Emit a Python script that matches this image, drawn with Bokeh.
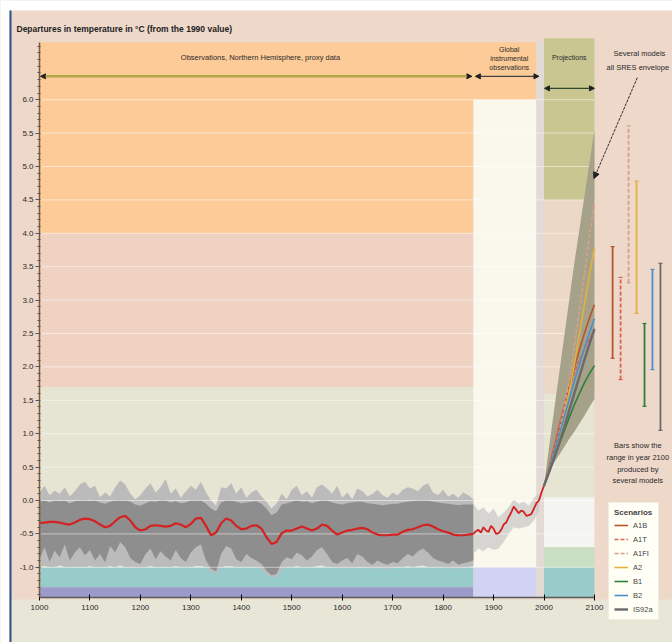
import numpy as np
from bokeh.plotting import figure
from bokeh.models import (Range1d, FixedTicker, NumeralTickFormatter, Legend, LegendItem,
                          Label, Arrow, NormalHead)
from bokeh.core.properties import value
from bokeh.embed import file_html
from bokeh.resources import INLINE

# ---------------- data ----------------
proxy_years = list(range(1000, 1861, 10))
proxy_band_top = [0.12, 0.22, 0.08, 0.15, 0.10, 0.20, 0.06, 0.14, 0.24, 0.28,
                  0.18, 0.22, 0.05, 0.12, 0.06, 0.20, 0.30, 0.24, 0.10, 0.02,
                  0.08, 0.18, 0.26, 0.12, 0.20, 0.32, 0.10, 0.18, 0.04, 0.14,
                  0.22, 0.16, 0.28, 0.12, 0.00, -0.08, 0.20, 0.18, 0.26, 0.10,
                  0.20, 0.04, 0.12, 0.16, 0.06, -0.02, -0.12, -0.04, 0.10, 0.02,
                  0.16, 0.22, 0.08, 0.14, 0.04, 0.20, 0.24, 0.18, 0.10, 0.22,
                  0.04, 0.12, 0.02, 0.18, 0.14, 0.06, 0.10, 0.16, 0.08, 0.04,
                  0.12, 0.08, 0.16, 0.20, 0.18, 0.14, 0.22, 0.26, 0.12, 0.08,
                  0.16, 0.06, 0.10, 0.04, 0.12, 0.08, 0.02]
proxy_core_top = [-0.02, 0.00, -0.03, 0.00, -0.01, 0.00, -0.04, -0.01, 0.00, 0.00,
                  -0.01, 0.00, -0.03, -0.05, -0.02, 0.00, 0.00, 0.00, -0.02, -0.06,
                  -0.08, -0.04, -0.01, -0.02, 0.00, 0.00, -0.03, -0.01, -0.04, -0.03,
                  0.00, 0.00, 0.00, -0.05, -0.12, -0.16, -0.03, 0.00, 0.00, -0.02,
                  -0.04, -0.03, -0.02, -0.01, -0.05, -0.12, -0.22, -0.18, -0.06, -0.04,
                  -0.02, 0.00, -0.02, -0.01, -0.04, -0.02, 0.00, 0.00, -0.03, -0.05,
                  -0.06, -0.04, -0.03, -0.02, -0.02, -0.04, -0.05, -0.06, -0.07, -0.06,
                  -0.05, -0.05, -0.03, -0.02, -0.01, 0.00, 0.00, 0.00, -0.02, -0.03,
                  -0.04, -0.05, -0.06, -0.07, -0.06, -0.06, -0.06]
proxy_core_bottom = [-0.88, -0.70, -0.92, -0.75, -0.85, -0.66, -0.90, -0.78, -0.70, -0.82,
                     -0.74, -0.90, -0.80, -0.93, -0.68, -0.78, -0.62, -0.70, -0.86, -0.92,
                     -0.95, -0.80, -0.72, -0.88, -0.76, -0.84, -0.90, -0.74, -0.86, -0.92,
                     -0.78, -0.70, -0.66, -0.90, -1.02, -1.06, -0.80, -0.68, -0.72, -0.88,
                     -0.92, -0.80, -0.86, -0.90, -0.95, -1.05, -1.12, -1.10, -0.92, -0.85,
                     -0.88, -0.78, -0.82, -0.90, -0.84, -0.74, -0.70, -0.80, -0.92, -0.95,
                     -0.90, -0.86, -0.94, -0.80, -0.84, -0.92, -0.96, -0.90, -0.94, -0.96,
                     -0.92, -0.94, -0.86, -0.80, -0.84, -0.76, -0.72, -0.78, -0.86, -0.90,
                     -0.92, -0.95, -0.90, -0.96, -0.94, -0.92, -0.90]
proxy_band_bottom = [-1.00, -0.98, -1.00, -1.00, -0.97, -1.00, -1.00, -0.99, -1.00, -1.00,
                     -0.98, -1.00, -1.00, -1.00, -0.98, -1.00, -0.97, -1.00, -1.00, -1.00,
                     -1.02, -1.00, -0.98, -1.00, -1.00, -0.99, -1.00, -0.98, -1.00, -1.00,
                     -1.00, -0.98, -0.98, -1.00, -1.06, -1.10, -1.00, -0.98, -0.98, -1.00,
                     -1.00, -1.00, -1.00, -1.00, -1.02, -1.10, -1.15, -1.14, -1.04, -1.00,
                     -1.00, -0.98, -1.00, -1.00, -1.00, -0.98, -0.97, -1.00, -1.00, -1.02,
                     -1.00, -1.00, -1.02, -1.00, -1.00, -1.00, -1.02, -1.00, -1.02, -1.02,
                     -1.00, -1.00, -1.00, -0.98, -1.00, -0.98, -0.97, -1.00, -1.00, -1.00,
                     -1.00, -1.02, -1.00, -1.02, -1.00, -1.00, -0.98]
proxy_smooth = [-0.34, -0.33, -0.32, -0.32, -0.33, -0.35, -0.36, -0.33, -0.29, -0.27,
                -0.28, -0.31, -0.36, -0.40, -0.38, -0.31, -0.25, -0.23, -0.30, -0.40,
                -0.45, -0.43, -0.38, -0.37, -0.38, -0.39, -0.38, -0.34, -0.36, -0.40,
                -0.35, -0.27, -0.26, -0.38, -0.52, -0.48, -0.34, -0.27, -0.30, -0.38,
                -0.43, -0.42, -0.38, -0.37, -0.42, -0.55, -0.65, -0.62, -0.49, -0.45,
                -0.45, -0.42, -0.39, -0.42, -0.45, -0.42, -0.36, -0.38, -0.45, -0.51,
                -0.48, -0.45, -0.44, -0.42, -0.41, -0.43, -0.48, -0.51, -0.52, -0.52,
                -0.51, -0.51, -0.47, -0.44, -0.43, -0.40, -0.37, -0.36, -0.39, -0.43,
                -0.46, -0.48, -0.51, -0.52, -0.52, -0.51, -0.50]

instr_years = [1860, 1865, 1870, 1875, 1880, 1885, 1890, 1895, 1900, 1905, 1910, 1915,
               1920, 1925, 1930, 1935, 1940, 1945, 1950, 1955, 1960, 1965, 1970,
               1975, 1980, 1985, 1990, 1995, 2000]
instr_temp = [-0.50, -0.46, -0.44, -0.48, -0.40, -0.45, -0.47, -0.38, -0.42, -0.50, -0.49, -0.44,
              -0.36, -0.33, -0.25, -0.18, -0.09, -0.14, -0.19, -0.15, -0.17, -0.23, -0.22,
              -0.20, -0.12, -0.04, 0.00, 0.12, 0.22]

instr_band_years = [1860, 1870, 1880, 1890, 1900, 1910, 1920, 1930, 1940, 1950, 1960, 1970, 1980, 1990]
instr_band_top = [-0.05, -0.15, -0.10, -0.20, -0.12, -0.25, -0.18, -0.10, 0.02, -0.05, -0.02, -0.08, 0.04, 0.10]
instr_band_bottom = [-0.80, -0.72, -0.76, -0.70, -0.74, -0.72, -0.62, -0.50, -0.40, -0.42, -0.40, -0.38, -0.30, -0.15]

proj_years = list(range(2000, 2101, 10))
envelope_upper = [0.22, 0.80, 1.35, 1.90, 2.45, 3.00, 3.55, 4.05, 4.55, 5.05, 5.55]
envelope_lower = [0.22, 0.42, 0.57, 0.68, 0.80, 0.92, 1.03, 1.15, 1.27, 1.40, 1.52]

scenario_names = ["A1B", "A1T", "A1FI", "A2", "B1", "B2", "IS92a"]
scen_A1B = [0.22, 0.48, 0.78, 1.09, 1.40, 1.70, 1.98, 2.25, 2.50, 2.73, 2.93]
scen_A1T = [0.22, 0.50, 0.82, 1.13, 1.42, 1.68, 1.90, 2.10, 2.27, 2.42, 2.55]
scen_A1FI = [0.22, 0.45, 0.72, 1.02, 1.38, 1.80, 2.30, 2.85, 3.40, 3.95, 4.45]
scen_A2 = [0.22, 0.42, 0.66, 0.93, 1.25, 1.62, 2.03, 2.48, 2.93, 3.37, 3.78]
scen_B1 = [0.22, 0.42, 0.63, 0.84, 1.04, 1.24, 1.43, 1.60, 1.76, 1.90, 2.02]
scen_B2 = [0.22, 0.45, 0.71, 0.98, 1.25, 1.52, 1.78, 2.03, 2.28, 2.51, 2.72]
scen_IS92a = [0.22, 0.42, 0.63, 0.86, 1.10, 1.35, 1.60, 1.85, 2.10, 2.34, 2.57]

# range in year 2100 produced by several models (same scenario order)
range2100_low = [2.13, 1.81, 3.26, 2.80, 1.41, 1.96, 1.05]
range2100_high = [3.80, 3.34, 5.61, 4.78, 2.65, 3.46, 3.55]

x_ticks = list(range(1000, 2101, 100))
y_ticks = [-1.0, -0.5, 0.0, 0.5, 1.0, 1.5, 2.0, 2.5, 3.0, 3.5, 4.0, 4.5, 5.0, 5.5, 6.0]

# ---------------- styling ----------------
FONT = "Liberation Sans"
scen_colors = ["#B5562B", "#D9634F", "#D6A08A", "#E3B23C", "#2F7F3B", "#4B8FD0", "#6A6A6A"]
scen_dash = ["solid", "4 2", "4 2", "solid", "solid", "solid", "solid"]
scen_width = [1.6, 1.6, 1.6, 1.6, 1.6, 1.6, 2.4]

# pixel geometry: year 1000 sits at x=39 px, 0 degC at y=500 px
px_per_year = 0.5045
px_per_deg = 66.8
W, H = 672, 642
axis_px_x, zero_px_y = 39, 500
x_start = 1000 - axis_px_x / px_per_year
x_end = 1000 + (W - axis_px_x) / px_per_year
y_top = zero_px_y / px_per_deg
y_bot = -(H - zero_px_y) / px_per_deg

x0 = 1000
y0 = -1.452          # level of the time axis

p = figure(width=W, height=H, output_backend="svg", toolbar_location=None,
           x_range=Range1d(x_start, x_end), y_range=Range1d(y_bot, y_top),
           min_border_left=0, min_border_right=0, min_border_top=0, min_border_bottom=0)
p.background_fill_color = "#EED8CA"
p.border_fill_color = "#EED8CA"
p.outline_line_color = None
p.xgrid.visible = False
p.ygrid.visible = False

# era boundaries
proxy_end, instr_end, proj_start, proj_end = 1860, 1985, 2000, 2100
top_obs, top_proj = 6.86, 6.92
page_left_edge = x_start + 9 / px_per_year
page_top_edge = y_top - 10 / px_per_deg
foot_top = y0 - 2 / px_per_deg
regions = [
    (x_start, x_end, page_top_edge, y_top, "#FFFFFF"),
    (x_start, page_left_edge, y_bot, y_top, "#FFFFFF"),
    (page_left_edge, x_end, y_bot, foot_top, "#E8E6D6"),
    (x0, proxy_end, 4.0, top_obs, "#FDCB98"),
    (proxy_end, instr_end, 6.0, top_obs, "#FDCB98"),
    (x0, proxy_end, 1.7, 4.0, "#EFD2C2"),
    (x0, proxy_end, -1.0, 1.7, "#E6E4D2"),
    (x0, proxy_end, -1.3, -1.0, "#98CCCB"),
    (x0, proxy_end, y0, -1.3, "#9C9ACB"),
    (proxy_end, instr_end, -1.0, 6.0, "#FAF8EC"),
    (proxy_end, instr_end, y0, -1.0, "#D2D2F2"),
    (instr_end, proj_start, y0, top_obs, "#E2DAD4"),
    (proj_start, proj_end, 4.5, top_proj, "#C9C692"),
    (proj_start, proj_end, 1.6, 4.5, "#ECD8C6"),
    (proj_start, proj_end, 0.05, 1.6, "#E6E4D2"),
    (proj_start, proj_end, -0.7, 0.05, "#F4F4F0"),
    (proj_start, proj_end, -1.0, -0.7, "#C8DFC4"),
    (proj_start, proj_end, y0, -1.0, "#98CCCB"),
]
p.quad(left=[r[0] for r in regions], right=[r[1] for r in regions],
       bottom=[r[2] for r in regions], top=[r[3] for r in regions],
       fill_color=[r[4] for r in regions], line_color=None)
# thin blue page edge on the left
p.quad(left=[page_left_edge], right=[page_left_edge + 2 / px_per_year],
       bottom=[y_bot], top=[page_top_edge], fill_color="#2B4E8C", line_color=None)

# proxy uncertainty bands
p.varea(x=proxy_years, y1=proxy_band_bottom, y2=proxy_band_top, fill_color="#BBBBBB")
p.varea(x=proxy_years, y1=proxy_core_bottom, y2=proxy_core_top, fill_color="#8E8E8E")
p.varea(x=instr_band_years, y1=instr_band_bottom, y2=instr_band_top,
        fill_color="#C6C6C6", fill_alpha=0.7)

# light horizontal reference lines at the tick levels
p.segment(x0=[x0] * len(y_ticks), x1=[proj_end] * len(y_ticks), y0=y_ticks, y1=y_ticks,
          line_color="white", line_alpha=0.5, line_width=1)

# projections envelope
p.varea(x=proj_years, y1=envelope_lower, y2=envelope_upper, fill_color="#A6A28A")

# temperature record
p.line(proxy_years, proxy_smooth, line_color="#D42222", line_width=2.2)
p.line(instr_years, instr_temp, line_color="#D42222", line_width=1.8)

scen_values = [scen_A1B, scen_A1T, scen_A1FI, scen_A2, scen_B1, scen_B2, scen_IS92a]
scen_renderers = []
for vals, c, d, w in zip(scen_values, scen_colors, scen_dash, scen_width):
    r = p.line(proj_years, vals, line_color=c, line_dash=d, line_width=w)
    scen_renderers.append(r)

# range bars beyond 2100
bar_x0, bar_step, cap = 2136, 15.8, 4
for i, (lo, hi) in enumerate(zip(range2100_low, range2100_high)):
    bx = bar_x0 + bar_step * i
    c = scen_colors[i]
    p.segment(x0=[bx], x1=[bx], y0=[lo], y1=[hi], line_color=c, line_width=1.8,
              line_dash=scen_dash[i])
    p.segment(x0=[bx - cap, bx - cap], x1=[bx + cap, bx + cap], y0=[lo, hi], y1=[lo, hi],
              line_color=c, line_width=1.2)

# texts
def txt(x, y, lines, size="7.5px", align="center", style="normal", dy=0.135):
    ys = [y - dy * k for k in range(len(lines))]
    p.text(x=[x] * len(lines), y=ys, text=lines, text_font=value(FONT),
           text_font_size=size, text_align=align, text_baseline="middle",
           text_color="#2A2A2A", text_font_style=style)

txt(1438, 6.63, ["Observations, Northern Hemisphere, proxy data"])
txt(1931, 6.75, ["Global", "instrumental", "observations"], size="7px")
txt(2050, 6.63, ["Projections"], size="7px")
txt(2138, 6.69, ["Several models"], align="left", size="7.5px")
txt(2124, 6.48, ["all SRES envelope"], align="left", size="7.5px")
txt(2186, 0.82, ["Bars show the", "range in year 2100", "produced by", "several models"],
    dy=0.175, size="7.5px")

title = Label(x=x_start + 16 / px_per_year, y=(zero_px_y - 28) / px_per_deg,
              text="Departures in temperature in \u00b0C (from the 1990 value)",
              text_font=FONT, text_font_size="8.5px", text_font_style="bold",
              text_baseline="middle", text_color="#222222")
p.add_layout(title)

# arrows
def head(s=5):
    return NormalHead(size=s, fill_color="#202020", line_color="#202020")

p.add_layout(Arrow(x_start=1002, y_start=6.35, x_end=1857, y_end=6.35,
                   start=head(), end=head(), line_color="#B3A647", line_width=2.5))
p.add_layout(Arrow(x_start=1864, y_start=6.35, x_end=1990, y_end=6.35,
                   start=head(), end=head(), line_color="#404040", line_width=1.2))
p.add_layout(Arrow(x_start=2001, y_start=6.17, x_end=2100, y_end=6.17,
                   start=head(), end=head(), line_color="#2F4A2A", line_width=1.2))
p.add_layout(Arrow(x_start=2185, y_start=6.33, x_end=2099, y_end=4.82,
                   end=head(6), line_color="#303030", line_width=1, line_dash="3 1"))

# axes (drawn at fixed data locations inside the frame)
p.xaxis.fixed_location = y0
p.yaxis.fixed_location = x0
p.xaxis.ticker = FixedTicker(ticks=x_ticks)
p.xaxis.bounds = (x0, proj_end)
p.xaxis.axis_line_color = "#5A5A5A"
p.xaxis.axis_line_width = 1.5
p.xaxis.major_tick_in = 3
p.xaxis.major_tick_out = 3
p.xaxis.minor_tick_line_color = None
p.xaxis.major_label_standoff = 5
p.xaxis.major_label_text_font = FONT
p.xaxis.major_label_text_font_size = "8px"
p.xaxis.major_label_text_color = "#2A2A2A"

minor = [round(v, 2) for v in np.arange(-1.4, 6.85, 0.1)]
p.yaxis.ticker = FixedTicker(ticks=y_ticks, minor_ticks=minor)
p.yaxis.formatter = NumeralTickFormatter(format="0.0")
p.yaxis.bounds = (y0, top_obs)
p.yaxis.axis_line_color = "#7A5A3A"
p.yaxis.axis_line_width = 1.5
p.yaxis.major_tick_out = 4
p.yaxis.major_tick_in = 0
p.yaxis.minor_tick_out = 2
p.yaxis.minor_tick_in = 1
p.yaxis.major_tick_line_color = "#555555"
p.yaxis.minor_tick_line_color = "#555555"
p.yaxis.major_label_standoff = 2
p.yaxis.major_label_text_font = FONT
p.yaxis.major_label_text_font_size = "8px"
p.yaxis.major_label_text_color = "#2A2A2A"

# legend
legend = Legend(items=[LegendItem(label=n, renderers=[r]) for n, r in zip(scenario_names, scen_renderers)],
                title="Scenarios", location=(608, 22))
legend.title_text_font = FONT
legend.title_text_font_size = "8px"
legend.title_text_font_style = "bold"
legend.title_standoff = 3
legend.label_text_font = FONT
legend.label_text_font_size = "7.5px"
legend.glyph_width = 14
legend.glyph_height = 10
legend.label_height = 10
legend.spacing = 4
legend.padding = 5
legend.margin = 0
legend.background_fill_color = "#FFFFF6"
legend.background_fill_alpha = 1
legend.border_line_color = "#E2DAC4"
p.add_layout(legend)

open("out.html", "w").write(file_html(p, INLINE))
